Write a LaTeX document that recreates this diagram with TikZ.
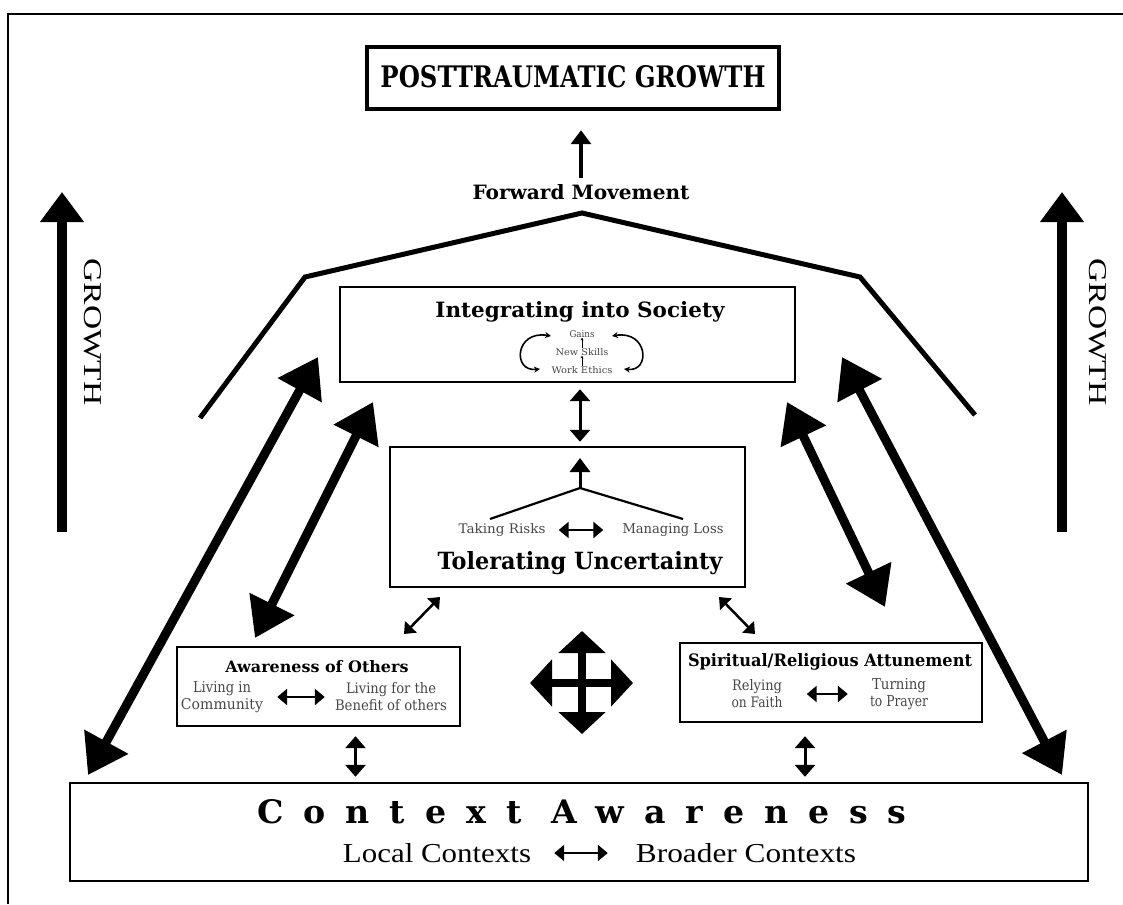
\documentclass[tikz,border=0pt]{standalone}
\usepackage{fontspec}
\setmainfont{DejaVu Serif}
\newfontfamily\timesf{Liberation Serif}
\newfontfamily\ctxfont[LetterSpace=60]{DejaVu Serif}
\usetikzlibrary{arrows.meta,calc}
\newcommand{\fwh}[3]{\resizebox{#1}{#2}{#3}}
\begin{document}
\begin{tikzpicture}[x=1pt,y=-1pt,
  box/.style={draw,line width=2.4pt,inner sep=0pt},
  txt/.style={inner sep=0pt},
  small/.style={inner sep=0pt,text=black!72,font=\fontsize{12}{17}\selectfont,align=center},
  tiny/.style={inner sep=0pt,text=black!72},
  dbl/.style={{Triangle[length=12pt,width=20pt]}-{Triangle[length=12pt,width=20pt]},line width=3pt},
  dblsm/.style={{Triangle[length=10pt,width=16pt]}-{Triangle[length=10pt,width=16pt]},line width=2.5pt},
  big/.style={{Triangle[length=38pt,width=48pt]}-{Triangle[length=38pt,width=48pt]},line width=9pt},
  cross/.style={{Triangle[length=22pt,width=46pt]}-{Triangle[length=22pt,width=46pt]},line width=8pt},
  uparr/.style={-{Triangle[length=14pt,width=20pt]},line width=3.5pt},
  growarr/.style={-{Triangle[length=30pt,width=42pt]},line width=10pt},
  roof/.style={line width=5pt,line join=miter}
]
\useasboundingbox (0,0) rectangle (1123,904);
% frame
\draw[line width=1.6pt] (8,904) -- (8,14) -- (1123,14);

% boxes
\node[box,line width=4.5pt,minimum width=412pt,minimum height=62pt] (ptg) at (573,78) {};
\node[box,minimum width=455pt,minimum height=95pt] (int) at (567.5,334.5) {};
\node[box,minimum width=355pt,minimum height=140pt] (tol) at (567.5,517) {};
\node[box,minimum width=283pt,minimum height=79pt] (aware) at (318.5,686.5) {};
\node[box,minimum width=302pt,minimum height=79pt] (spir) at (831,682.5) {};
\node[box,minimum width=1018pt,minimum height=98pt] (ctx) at (579,832) {};

% top
\node[txt] (ptgt) at (573,77) {\fwh{385pt}{22pt}{\bfseries POSTTRAUMATIC GROWTH}};
\node[txt] (fm) at (581,192) {\fwh{217pt}{15pt}{\bfseries Forward Movement}};
\draw[uparr,shorten <=6pt,shorten >=19pt] (fm.north) -- (fm.north |- ptg.south);

% roof
\draw[roof] (200,418) -- (305,277) -- (582,213) -- (860,277) -- (975,415);

% integrating
\node[txt] (intt) at (580,312) {\fwh{289pt}{16pt}{\bfseries Integrating into Society}};
\node[tiny] (gains) at (582,334) {\fwh{25pt}{7pt}{Gains}};
\node[tiny] (skills) at (582,352) {\fwh{53pt}{7pt}{New Skills}};
\node[tiny] (ethics) at (582,370) {\fwh{61pt}{7pt}{Work Ethics}};
\draw[-{Stealth[length=2.5pt,width=3pt]},line width=0.6pt] (skills.north) -- (gains.south);
\draw[-{Stealth[length=2.5pt,width=3pt]},line width=0.6pt] (ethics.north) -- (skills.south);
\coordinate (cl1) at (551,336); \coordinate (cl2) at (540,369);
\coordinate (cr1) at (612,336); \coordinate (cr2) at (624,369);
\draw[{Stealth[length=6pt,width=6pt]}-{Stealth[length=6pt,width=6pt]},line width=1.6pt] (cl1) .. controls (515,330) and (512,372) .. (cl2);
\draw[{Stealth[length=6pt,width=6pt]}-{Stealth[length=6pt,width=6pt]},line width=1.6pt] (cr1) .. controls (648,330) and (651,372) .. (cr2);

\draw[dbl,shorten <=6pt,shorten >=4pt] ([xshift=12.5pt]int.south) -- ([xshift=12.5pt]tol.north);

% tolerating
\node[txt] (tolt) at (580,563) {\fwh{285pt}{18pt}{\bfseries Tolerating Uncertainty}};
\node[txt,text=black!72] (risk) at (502,530) {\fwh{87pt}{10pt}{Taking Risks}};
\node[txt,text=black!72] (loss) at (673,530) {\fwh{101pt}{10pt}{Managing Loss}};
\draw[dblsm,shorten <=13pt,shorten >=19pt] (risk.east) -- (loss.west);
\coordinate (apex) at (580,488);
\coordinate (bl) at (490,519);
\coordinate (br) at (683,519);
\coordinate (uptip) at (580,458);
\draw[line width=2.2pt] (bl) -- (apex) -- (br);
\draw[uparr,line width=3pt] (apex) -- (uptip);

% awareness of others
\node[txt] (awt) at (317,667) {\fwh{183pt}{12pt}{\bfseries Awareness of Others}};
\node[small] (liv) at (222,697) {\fwh{58pt}{11pt}{Living in}\\\fwh{82pt}{11pt}{Community}};
\node[small] (ben) at (391,697) {\fwh{90pt}{11pt}{Living for the}\\\fwh{112pt}{11pt}{Benefit of others}};
\draw[dblsm,shorten <=14pt,shorten >=10pt] (liv.east) -- (ben.west);

% spiritual
\node[txt] (spt) at (830,662) {\fwh{284pt}{13pt}{\bfseries Spiritual/Religious Attunement}};
\node[small] (rel) at (757,694) {\fwh{50pt}{11pt}{Relying}\\\fwh{51pt}{11pt}{on Faith}};
\node[small] (tur) at (899,694) {\fwh{54pt}{11pt}{Turning}\\\fwh{58pt}{11pt}{to Prayer}};
\draw[dblsm,shorten <=24pt,shorten >=22pt] (rel.east) -- (tur.west);

% context
\node[txt] (ctxt) at (582,812) {\fwh{649pt}{24pt}{\ctxfont\bfseries Context\hspace{0.9em}Awareness}};
\node[txt] (local) at (437,853) {\fwh{188pt}{19pt}{\timesf Local Contexts}};
\node[txt] (broad) at (746,853) {\fwh{220pt}{19pt}{\timesf Broader Contexts}};
\draw[dblsm,line width=2.2pt,shorten <=23pt,shorten >=28pt] (local.east) -- (broad.west);

% connectors to context
\draw[dbl,shorten <=9pt,shorten >=5pt] ([xshift=37pt]aware.south) -- ([xshift=37pt]aware.south |- ctx.north);
\draw[dbl,shorten <=13pt,shorten >=5pt] ([xshift=-26pt]spir.south) -- ([xshift=-26pt]spir.south |- ctx.north);

% small diagonal arrows
\coordinate (d1a) at (404,634); \coordinate (d1b) at (440,597);
\coordinate (d2a) at (719,597); \coordinate (d2b) at (755,634);
\draw[dblsm] (d1a) -- (d1b);
\draw[dblsm] (d2a) -- (d2b);

% four-way arrow
\coordinate (cc) at (582,683);
\draw[cross] ([xshift=-52pt]cc) -- ([xshift=51pt]cc);
\draw[cross] ([yshift=-51pt]cc) -- ([yshift=52pt]cc);

% big diagonal arrows
\coordinate (lo1) at (88,775); \coordinate (lo2) at (318,357);
\coordinate (li1) at (255,638); \coordinate (li2) at (373,402);
\coordinate (ri1) at (787,402); \coordinate (ri2) at (885,607);
\coordinate (ro1) at (842,357); \coordinate (ro2) at (1062,775);
\draw[big] (lo1) -- (lo2);
\draw[big] (li1) -- (li2);
\draw[big] (ri1) -- (ri2);
\draw[big] (ro1) -- (ro2);

% growth arrows
\coordinate (gl1) at (62,532); \coordinate (gl2) at (62,192);
\coordinate (gr1) at (1062,532); \coordinate (gr2) at (1062,192);
\draw[growarr] (gl1) -- (gl2);
\draw[growarr] (gr1) -- (gr2);
\node[txt,rotate=-90] (gtl) at (93,332) {\fwh{147pt}{17pt}{\timesf GROWTH}};
\node[txt,rotate=-90] (gtr) at (1098,332) {\fwh{147pt}{17pt}{\timesf GROWTH}};
\end{tikzpicture}
\end{document}
